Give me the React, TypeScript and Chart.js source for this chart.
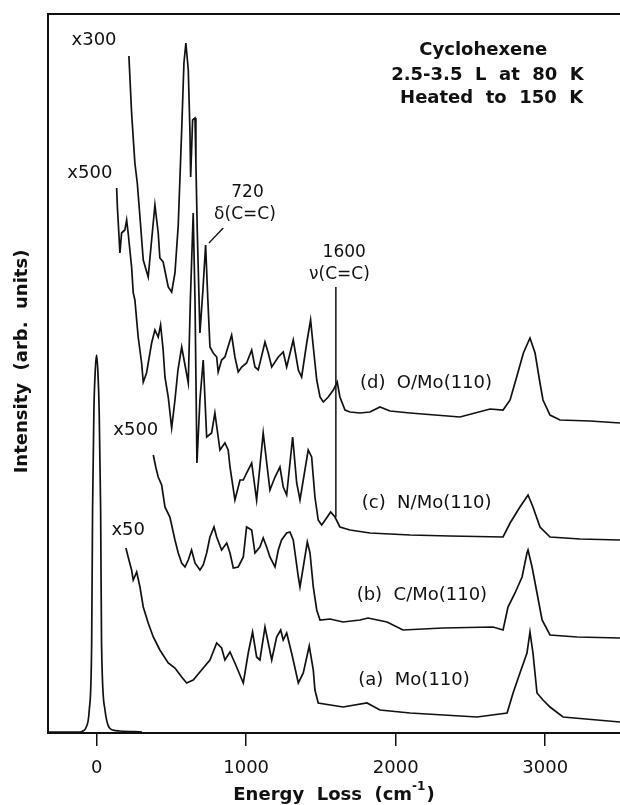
import React, { useEffect, useRef } from "react";
import { Chart, registerables } from "chart.js";

Chart.register(...registerables);

// ---------- axis ----------
const X_MIN = -325;
const X_MAX = 3500;
const X_TICKS = [0, 1000, 2000, 3000];
const Y_MIN = 0;
const Y_MAX = 719;

// ---------- elastic peak ----------
const ELASTIC_E = [-325, -112, -92, -72, -49, -33, -27, -18, -8, 0, 9, 17, 27, 33, 56, 76, 109, 156, 303];
const ELASTIC_I = [1, 1, 2, 5, 23, 90, 223, 323, 365, 378, 360, 323, 223, 90, 23, 8, 3, 2, 1];

// ---------- (d) O/Mo(110), x300 ----------
const D_E = [216, 234, 256, 272, 290, 312, 345, 368, 390, 412, 423, 445, 479, 502, 524, 546, 569, 584, 597, 613, 624, 629, 642, 658, 664, 673, 691, 711, 729, 744, 758, 780, 803, 813, 836, 858, 903, 925, 947, 970, 1003, 1037, 1059, 1081, 1126, 1148, 1171, 1215, 1248, 1271, 1315, 1349, 1371, 1405, 1431, 1449, 1472, 1494, 1516, 1549, 1583, 1609, 1627, 1661, 1694, 1761, 1828, 1895, 1962, 2096, 2263, 2430, 2631, 2718, 2765, 2809, 2854, 2898, 2932, 2965, 2985, 3032, 3099, 3300, 3500];
const D_I = [677, 620, 570, 550, 516, 473, 456, 493, 528, 500, 475, 471, 446, 441, 460, 508, 603, 670, 690, 663, 603, 556, 613, 615, 570, 503, 400, 443, 488, 433, 386, 380, 376, 361, 373, 376, 398, 376, 361, 366, 370, 383, 366, 363, 391, 380, 366, 376, 381, 366, 393, 363, 356, 390, 413, 386, 353, 336, 331, 336, 343, 351, 336, 323, 321, 320, 321, 326, 322, 320, 318, 316, 324, 323, 333, 356, 380, 395, 380, 350, 333, 318, 313, 312, 310];

// ---------- (c) N/Mo(110), x500 ----------
const C_E = [134, 139, 156, 167, 189, 201, 211, 234, 245, 256, 278, 301, 312, 334, 368, 390, 412, 428, 445, 457, 479, 502, 524, 544, 569, 591, 613, 627, 646, 658, 671, 691, 713, 736, 769, 791, 825, 858, 880, 892, 925, 959, 981, 1003, 1037, 1070, 1114, 1159, 1193, 1226, 1248, 1271, 1311, 1338, 1360, 1393, 1415, 1438, 1460, 1482, 1505, 1538, 1565, 1594, 1627, 1694, 1828, 1962, 2096, 2363, 2718, 2765, 2831, 2885, 2918, 2965, 3032, 3233, 3500];
const C_I = [545, 526, 480, 500, 503, 513, 500, 466, 440, 433, 396, 370, 351, 360, 390, 403, 396, 408, 383, 356, 336, 305, 333, 363, 386, 368, 350, 433, 520, 433, 270, 333, 373, 296, 300, 320, 283, 290, 283, 266, 233, 253, 253, 260, 270, 233, 300, 243, 256, 266, 246, 238, 296, 250, 233, 263, 283, 276, 236, 213, 208, 215, 221, 216, 206, 203, 200, 199, 198, 197, 196, 210, 226, 238, 226, 206, 196, 194, 193];

// ---------- (b) C/Mo(110), x500 ----------
const B_E = [379, 397, 412, 435, 457, 490, 524, 546, 569, 591, 613, 635, 658, 691, 713, 736, 758, 785, 803, 836, 870, 892, 914, 947, 981, 1003, 1037, 1059, 1092, 1114, 1137, 1159, 1193, 1215, 1237, 1271, 1293, 1315, 1349, 1360, 1382, 1409, 1427, 1449, 1472, 1494, 1561, 1648, 1761, 1815, 1942, 2049, 2316, 2651, 2718, 2751, 2798, 2845, 2878, 2885, 2912, 2945, 2979, 3032, 3213, 3500];
const B_I = [278, 265, 256, 248, 226, 216, 193, 180, 170, 166, 173, 183, 170, 163, 168, 180, 196, 206, 196, 183, 190, 180, 165, 166, 176, 206, 203, 180, 186, 195, 186, 176, 166, 183, 193, 200, 201, 193, 156, 146, 166, 191, 180, 146, 123, 113, 114, 111, 113, 115, 111, 103, 105, 106, 103, 126, 140, 156, 180, 183, 166, 140, 113, 98, 96, 95];

// ---------- (a) Mo(110), x50 ----------
const A_E = [196, 211, 234, 245, 268, 290, 312, 345, 379, 423, 479, 524, 569, 602, 646, 702, 758, 803, 836, 858, 892, 925, 981, 1014, 1043, 1070, 1092, 1126, 1148, 1171, 1204, 1231, 1248, 1271, 1304, 1349, 1382, 1422, 1449, 1460, 1482, 1648, 1808, 1895, 2096, 2544, 2745, 2785, 2831, 2878, 2898, 2918, 2945, 2985, 3032, 3119, 3500];
const A_I = [185, 176, 163, 153, 161, 146, 126, 110, 96, 83, 70, 65, 56, 50, 53, 63, 73, 90, 85, 73, 81, 70, 50, 80, 101, 76, 73, 106, 90, 73, 96, 103, 93, 100, 80, 50, 60, 87, 63, 43, 30, 26, 30, 23, 20, 16, 20, 40, 60, 80, 101, 80, 40, 33, 26, 16, 11];

// ---------- annotations (energy, intensity of baseline) ----------
const FACTOR_LABELS = ["x300", "x500", "x500", "x50"];
const FACTOR_E = [-17, -45, 262, 211];
const FACTOR_I = [688, 555, 298, 198];

const SPECTRUM_LABELS = ["(d)  O/Mo(110)", "(c)  N/Mo(110)", "(b)  C/Mo(110)", "(a)  Mo(110)"];
const SPECTRUM_E = [1761, 1773, 1739, 1750];
const SPECTRUM_I = [345, 225, 133, 48];

const MODE_LABELS = ["720", "δ(C=C)", "1600", "ν(C=C)"];
const MODE_E = [1009, 992, 1656, 1624];
const MODE_I = [536, 514, 476, 454];

const TITLE_LINES = ["Cyclohexene", "2.5-3.5  L  at  80  K", "Heated  to  150  K"];
const TITLE_E = [2586, 2614, 2642];
const TITLE_I = [678, 653, 630];

// leader line to the 720 peak, and marker line at 1600
const LEADER_720_E = [847, 751];
const LEADER_720_I = [505, 490];
const MARK_1600_E = 1600;
const MARK_1600_I = [446, 216];

const INK = "#111";
const FONT = '"DejaVu Sans", "Liberation Sans", sans-serif';

const toXY = (xs: number[], ys: number[]) => xs.map((x, i) => ({ x, y: ys[i] }));

const annotationPlugin = {
  id: "spectraAnnotations",
  afterDraw(chart: any) {
    const { ctx, chartArea } = chart;
    const sx = chart.scales.x;
    const sy = chart.scales.y;
    const px = (e: number) => sx.getPixelForValue(e);
    const py = (v: number) => sy.getPixelForValue(v);
    ctx.save();
    ctx.fillStyle = INK;
    ctx.strokeStyle = INK;
    ctx.textBaseline = "alphabetic";

    // scale factors
    ctx.font = `18px ${FONT}`;
    ctx.textAlign = "center";
    FACTOR_LABELS.forEach((t, i) => ctx.fillText(t, px(FACTOR_E[i]), py(FACTOR_I[i])));

    // spectrum labels
    ctx.textAlign = "left";
    SPECTRUM_LABELS.forEach((t, i) => ctx.fillText(t, px(SPECTRUM_E[i]), py(SPECTRUM_I[i])));

    // mode labels
    ctx.font = `17px ${FONT}`;
    ctx.textAlign = "center";
    MODE_LABELS.forEach((t, i) => ctx.fillText(t, px(MODE_E[i]), py(MODE_I[i])));

    // title block
    ctx.font = `bold 18px ${FONT}`;
    TITLE_LINES.forEach((t, i) => ctx.fillText(t, px(TITLE_E[i]), py(TITLE_I[i])));

    // lines
    ctx.lineWidth = 1.3;
    ctx.beginPath();
    ctx.moveTo(px(LEADER_720_E[0]), py(LEADER_720_I[0]));
    ctx.lineTo(px(LEADER_720_E[1]), py(LEADER_720_I[1]));
    ctx.stroke();
    ctx.lineWidth = 1.5;
    ctx.beginPath();
    ctx.moveTo(px(MARK_1600_E), py(MARK_1600_I[0]));
    ctx.lineTo(px(MARK_1600_E), py(MARK_1600_I[1]));
    ctx.stroke();

    // x axis title with superscript
    const cx = (chartArea.left + chartArea.right) / 2;
    const baseY = chartArea.bottom + 67;
    const main = "Energy  Loss  (cm";
    const sup = "-1";
    const close = ")";
    ctx.font = `bold 18px ${FONT}`;
    const w1 = ctx.measureText(main).width;
    const w3 = ctx.measureText(close).width;
    ctx.font = `bold 12px ${FONT}`;
    const w2 = ctx.measureText(sup).width + 1;
    const start = cx - (w1 + w2 + w3) / 2;
    ctx.textAlign = "left";
    ctx.font = `bold 18px ${FONT}`;
    ctx.fillText(main, start, baseY);
    ctx.font = `bold 12px ${FONT}`;
    ctx.fillText(sup, start + w1, baseY - 10);
    ctx.font = `bold 18px ${FONT}`;
    ctx.fillText(close, start + w1 + w2, baseY);

    // y axis title
    ctx.save();
    ctx.translate(chartArea.left - 21, 361.5);
    ctx.rotate(-Math.PI / 2);
    ctx.textAlign = "center";
    ctx.font = `bold 18px ${FONT}`;
    ctx.fillText("Intensity  (arb.  units)", 0, 0);
    ctx.restore();

    ctx.restore();
  },
};

export default function App() {
  const canvasRef = useRef<HTMLCanvasElement | null>(null);

  useEffect(() => {
    if (!canvasRef.current) return;
    const lineStyle = {
      borderColor: INK,
      borderWidth: 1.7,
      pointRadius: 0,
      tension: 0,
      fill: false,
    };
    const chart = new Chart(canvasRef.current, {
      type: "line",
      data: {
        datasets: [
          { label: "elastic", data: toXY(ELASTIC_E, ELASTIC_I), ...lineStyle, cubicInterpolationMode: "monotone" },
          { label: "(d) O/Mo(110) x300", data: toXY(D_E, D_I), ...lineStyle },
          { label: "(c) N/Mo(110) x500", data: toXY(C_E, C_I), ...lineStyle },
          { label: "(b) C/Mo(110) x500", data: toXY(B_E, B_I), ...lineStyle },
          { label: "(a) Mo(110) x50", data: toXY(A_E, A_I), ...lineStyle },
        ],
      } as any,
      options: {
        responsive: false,
        animation: false,
        devicePixelRatio: 1,
        events: [],
        layout: { padding: 0 },
        plugins: { legend: { display: false }, tooltip: { enabled: false } },
        scales: {
          x: {
            type: "linear",
            position: "bottom",
            min: X_MIN,
            max: X_MAX,
            afterBuildTicks: (s: any) => {
              s.ticks = X_TICKS.map((v) => ({ value: v }));
            },
            afterFit: (s: any) => {
              s.height = 72;
            },
            ticks: {
              color: INK,
              font: { family: FONT, size: 18 },
              padding: 12,
              maxRotation: 0,
              autoSkip: false,
              callback: (v: any) => String(v),
            },
            grid: { display: true, drawOnChartArea: false, drawTicks: true, tickLength: 13, color: INK, lineWidth: 1.5 },
            border: { display: true, color: INK, width: 2 },
          },
          x2: {
            type: "linear",
            position: "top",
            min: X_MIN,
            max: X_MAX,
            ticks: { display: false },
            grid: { display: false },
            border: { display: true, color: INK, width: 2 },
            afterFit: (s: any) => {
              s.height = 14;
            },
          },
          y: {
            type: "linear",
            position: "left",
            min: Y_MIN,
            max: Y_MAX,
            ticks: { display: false },
            grid: { display: false },
            border: { display: true, color: INK, width: 2 },
            afterFit: (s: any) => {
              s.width = 48;
            },
          },
        },
      } as any,
      plugins: [annotationPlugin],
    });
    return () => chart.destroy();
  }, []);

  return (
    <div style={{ position: "fixed", left: 0, top: 0, width: 620, height: 805, background: "#fff" }}>
      <canvas ref={canvasRef} width={620} height={805} />
    </div>
  );
}
